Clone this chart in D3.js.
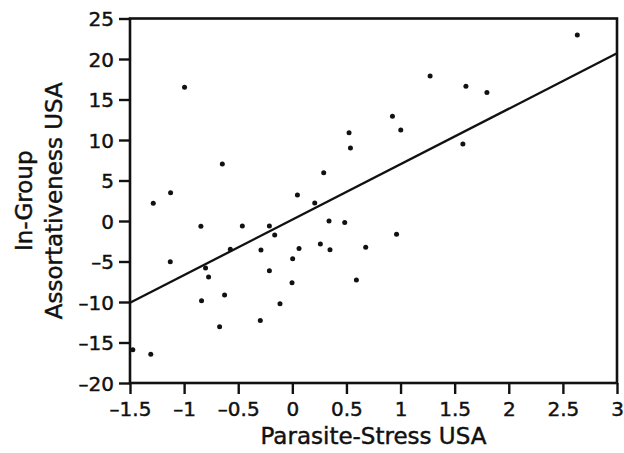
<!DOCTYPE html>
<html>
<head>
<meta charset="utf-8">
<script src="https://cdn.jsdelivr.net/npm/d3@7"></script>
<style>
  html, body { margin: 0; padding: 0; background: #fff; }
  svg { display: block; }
  text { font-family: "DejaVu Sans", sans-serif; fill: #111; stroke: #111; stroke-width: 0.45px; }
</style>
</head>
<body>
<svg id="chart" width="624" height="453"></svg>
<script>
// Data
const parasiteStress = [-0.996, 0.524, 0.537, -0.647, 0.29, -1.125, 0.047, 2.633, 1.273, 1.604,
  1.798, 0.925, 1.002, 1.576, -1.285, 0.207, -0.845, -0.462, -0.212, -0.163,
  0.339, 0.484, 0.678, -0.573, -0.29, 0.062, 0.259, 0.348, -1.128, -0.802,
  -0.774, -0.212, 0.003, -0.003, 0.592, -0.839, -0.626, -0.114, -0.672, -0.296,
  -1.474, -1.308, 0.963];
const assortativeness = [16.5, 10.9, 9.0, 7.05, 5.97, 3.5, 3.2, 22.95, 17.9, 16.65,
  15.86, 12.94, 11.25, 9.52, 2.19, 2.22, -0.66, -0.62, -0.62, -1.73,
  0.0, -0.17, -3.25, -3.5, -3.58, -3.38, -2.84, -3.54, -5.03, -5.81,
  -6.92, -6.14, -4.65, -7.62, -7.29, -9.85, -9.15, -10.22, -13.06, -12.28,
  -15.9, -16.44, -1.65];
const fitX = [-1.5, 3];
const fitY = [-10.1, 20.7];
const xTicks = [-1.5, -1, -0.5, 0, 0.5, 1, 1.5, 2, 2.5, 3];
const yTicks = [-20, -15, -10, -5, 0, 5, 10, 15, 20, 25];
const xTitle = "Parasite-Stress USA";
const yTitleLines = ["In-Group", "Assortativeness USA"];

(function () {
const svg = d3.select("#chart");
const pL = 130, pR = 617, pT = 18.5, pB = 383;

const x = d3.scaleLinear().domain([-1.5, 3]).range([pL, pR]);
const y = d3.scaleLinear().domain([-20, 25]).range([pB, pT]);

const fmt = v => (v < 0 ? "\u2013" : "") + String(Math.abs(v));

const xAxis = d3.axisBottom(x).tickValues(xTicks).tickSize(11).tickPadding(8).tickFormat(fmt);
const yAxis = d3.axisLeft(y).tickValues(yTicks).tickSize(11).tickPadding(5).tickFormat(fmt);

const gx = svg.append("g").attr("transform", `translate(0,${pB})`).call(xAxis);
const gy = svg.append("g").attr("transform", `translate(${pL},0)`).call(yAxis);

[gx, gy].forEach(g => {
  g.select(".domain").remove();
  g.selectAll(".tick line").attr("stroke", "#111").attr("stroke-width", 2.4);
  g.selectAll(".tick text").style("font-size", "20px").style("font-family", "DejaVu Sans, sans-serif").attr("fill", "#111");
});
gy.selectAll(".tick text").attr("dy", "0.36em");

svg.append("rect")
  .attr("x", pL).attr("y", pT)
  .attr("width", pR - pL).attr("height", pB - pT)
  .attr("fill", "none").attr("stroke", "#111").attr("stroke-width", 2.6);

svg.append("line")
  .attr("x1", x(fitX[0])).attr("y1", y(fitY[0]))
  .attr("x2", x(fitX[1])).attr("y2", y(fitY[1]))
  .attr("stroke", "#111").attr("stroke-width", 2.3);

svg.append("g").selectAll("circle")
  .data(parasiteStress.map((v, i) => [v, assortativeness[i]]))
  .join("circle")
  .attr("cx", d => x(d[0]))
  .attr("cy", d => y(d[1]))
  .attr("r", 2.5)
  .attr("fill", "#111");

svg.append("text")
  .attr("x", (pL + pR) / 2).attr("y", 444)
  .attr("text-anchor", "middle")
  .style("font-size", "23px")
  .text(xTitle);

const cy = (pT + pB) / 2;
[32, 62].forEach((bx, i) => {
  svg.append("text")
    .attr("transform", `translate(${bx},${cy}) rotate(-90)`)
    .attr("text-anchor", "middle")
    .style("font-size", "23px")
    .text(yTitleLines[i]);
});
})();
</script>
</body>
</html>
